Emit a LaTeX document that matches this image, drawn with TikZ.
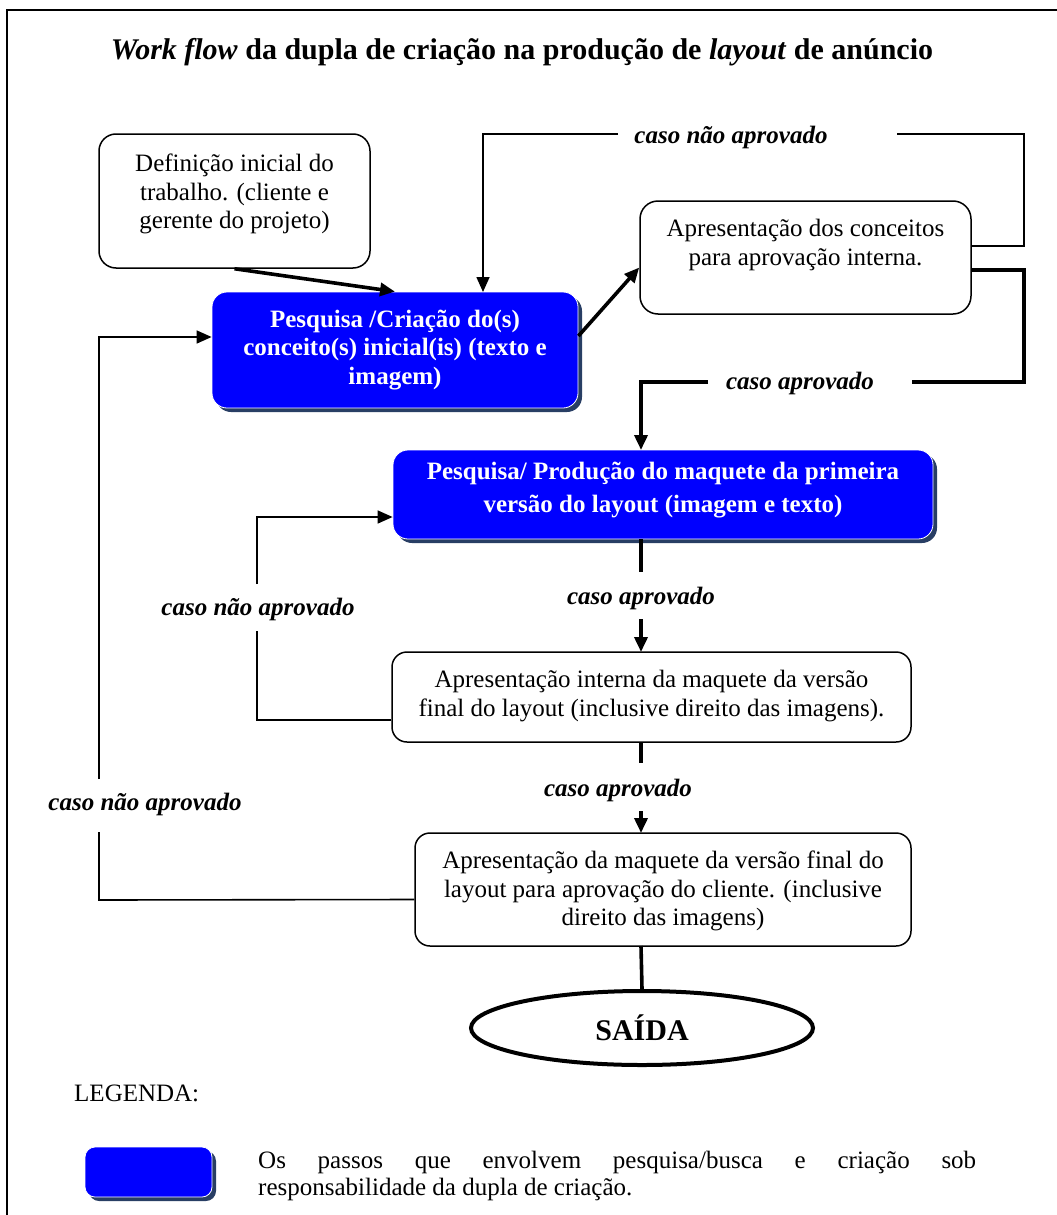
\documentclass[tikz,border=0pt]{standalone}
\usepackage{fontspec}
\setmainfont{Liberation Serif}
\usetikzlibrary{arrows.meta,calc,shapes.geometric}
\definecolor{stepblue}{RGB}{0,0,255}
\definecolor{stepshadow}{RGB}{40,62,100}

\begin{document}
\begin{tikzpicture}[x=1pt,y=-1pt,
  txt/.style={font=\fontsize{25}{28.5}\selectfont,align=center,inner sep=0pt},
  bluetxt/.style={font=\fontsize{25}{28.5}\selectfont\bfseries,text=white,align=center,inner sep=0pt},
  lbl/.style={font=\fontsize{25}{28}\selectfont\bfseries\itshape,inner sep=0pt},
  plainbox/.style={draw=black,line width=1.5pt,fill=white,rounded corners=17pt,inner sep=0pt},
  bluebox/.style={draw=white,line width=0.8pt,fill=stepblue,rounded corners=15pt,inner sep=0pt,
    preaction={fill=stepshadow,transform canvas={xshift=4pt,yshift=-4pt}}},
  thin/.style={line width=1.6pt},
  thick/.style={line width=3.6pt},
  tip/.style={-{Triangle[length=15pt,width=13pt]}},
]
% page area and outer frame
\useasboundingbox (0,0) rectangle (1057,1215);
\draw[line width=2pt] (7,1240) -- (7,10) -- (1080,10);

% title
\node (title) at (522,52) {\fontsize{30}{34}\selectfont\bfseries\textit{Work flow} da dupla de criação na produção de \textit{layout} de anúncio};

% process boxes
\node[plainbox,minimum width=271pt,minimum height=134pt] (defbox) at (234.5,201) {};
\node[txt] (deftxt) at (234.5,194) {Definição inicial do\\trabalho. (cliente e\\gerente do projeto)};

\node[bluebox,minimum width=366pt,minimum height=116pt] (concept) at (395,350) {};
\node[bluetxt] (concepttxt) at (395,350) {Pesquisa /Criação do(s)\\conceito(s) inicial(is) (texto e\\imagem)};

\node[plainbox,rounded corners=18pt,minimum width=331pt,minimum height=113pt] (intern) at (805.5,257.5) {};
\node[txt] (interntxt) at (805.5,245) {Apresentação dos conceitos\\para aprovação interna.};

\node[bluebox,minimum width=540pt,minimum height=89pt] (mockup) at (663,494.5) {};
\node[bluetxt,font=\fontsize{25}{33}\selectfont\bfseries] (mockuptxt) at (663,490) {Pesquisa/ Produção do maquete da primeira\\versão do layout (imagem e texto)};

\node[plainbox,rounded corners=15pt,minimum width=519pt,minimum height=90pt] (final) at (651.5,697) {};
\node[txt] (finaltxt) at (651.5,696) {Apresentação interna da maquete da versão\\final do layout (inclusive direito das imagens).};

\node[plainbox,rounded corners=15pt,minimum width=496pt,minimum height=113pt] (client) at (663,889.5) {};
\node[txt] (clienttxt) at (663,891) {Apresentação da maquete da versão final do\\layout para aprovação do cliente. (inclusive\\direito das imagens)};

\node[ellipse,draw=black,line width=4pt,minimum width=342pt,minimum height=74pt,inner sep=0pt] (exit) at (642,1028) {};
\node[font=\fontsize{30}{34}\selectfont\bfseries,inner sep=0pt] (exittxt) at (642,1028) {SAÍDA};

% bend points of the connectors
\coordinate (c1) at (1024,246);
\coordinate (c2) at (1024,134);
\coordinate (c3) at (897,134);
\coordinate (c4) at (618,134);
\coordinate (c5) at (483,134);
\coordinate (c6) at (483,292);
\coordinate (d1) at (1024,270);
\coordinate (d2) at (1024,382);
\coordinate (d3) at (912,382);
\coordinate (d4) at (708,382);
\coordinate (d5) at (641,382);
\coordinate (d6) at (641,450);
\coordinate (e1) at (99,900);
\coordinate (e2) at (99,832);
\coordinate (e3) at (99,779);
\coordinate (e4) at (99,337);
\coordinate (f1) at (257,720);
\coordinate (f2) at (257,631);
\coordinate (f3) at (257,584);
\coordinate (f4) at (257,517);
\coordinate (g1) at (641,539);
\coordinate (g2) at (641,572);
\coordinate (g3) at (641,619);
\coordinate (g4) at (641,652);
\coordinate (g5) at (641,742);
\coordinate (g6) at (641,763);
\coordinate (g7) at (641,811);
\coordinate (g8) at (641,833);
\coordinate (g9) at (641,946);

% connector labels
\node[lbl] (l1) at (731,137) {caso não aprovado};
\node[lbl] (l2) at (800,383) {caso aprovado};
\node[lbl] (l3) at (641,598) {caso aprovado};
\node[lbl] (l4) at (618,790) {caso aprovado};
\node[lbl] (l5) at (258,609) {caso não aprovado};
\node[lbl] (l6) at (145,804) {caso não aprovado};

% connectors
\draw[thick,tip] (defbox.south) -- (concept.north);
\draw[thick,tip] ([yshift=14pt]concept.east) -- ([yshift=-10pt]intern.west);

\draw[thin] ([yshift=11.5pt]intern.east) -- (c1) -- (c2) -- (c3);
\draw[thin,tip] (c4) -- (c5) -- (c6);

\draw[thick] ([yshift=-12.5pt]intern.east) -- (d1) -- (d2) -- (d3);
\draw[thick,tip] (d4) -- (d5) -- (d6);

\draw[thin] ([yshift=-10pt]client.west) -- (e1) -- (e2);
\draw[thin,tip] (e3) -- (e4) -- ([yshift=13pt]concept.west);

\draw[thin] ([yshift=-23pt]final.west) -- (f1) -- (f2);
\draw[thin,tip] (f3) -- (f4) -- ([yshift=-22.5pt]mockup.west);

\draw[thick] (g1) -- (g2);
\draw[thick,tip] (g3) -- (g4);
\draw[thick] (g5) -- (g6);
\draw[thick,tip] (g7) -- (g8);
\draw[thick] (g9) -- (exit.north);

% legend
\node[font=\fontsize{25}{28}\selectfont,anchor=west,inner sep=0pt] (legtitle) at (74,1093) {LEGENDA:};
\node[bluebox,rounded corners=10pt,minimum width=127pt,minimum height=50pt] (legbox) at (148.5,1172) {};
\node[font=\fontsize{25}{27}\selectfont,anchor=north west,inner sep=0pt,align=left] (legtxt) at (258,1151)
  {\hbox to 718pt{Os\hfill passos\hfill que\hfill envolvem\hfill pesquisa/busca\hfill e\hfill criação\hfill sob}\\responsabilidade da dupla de criação.};
\end{tikzpicture}
\end{document}
